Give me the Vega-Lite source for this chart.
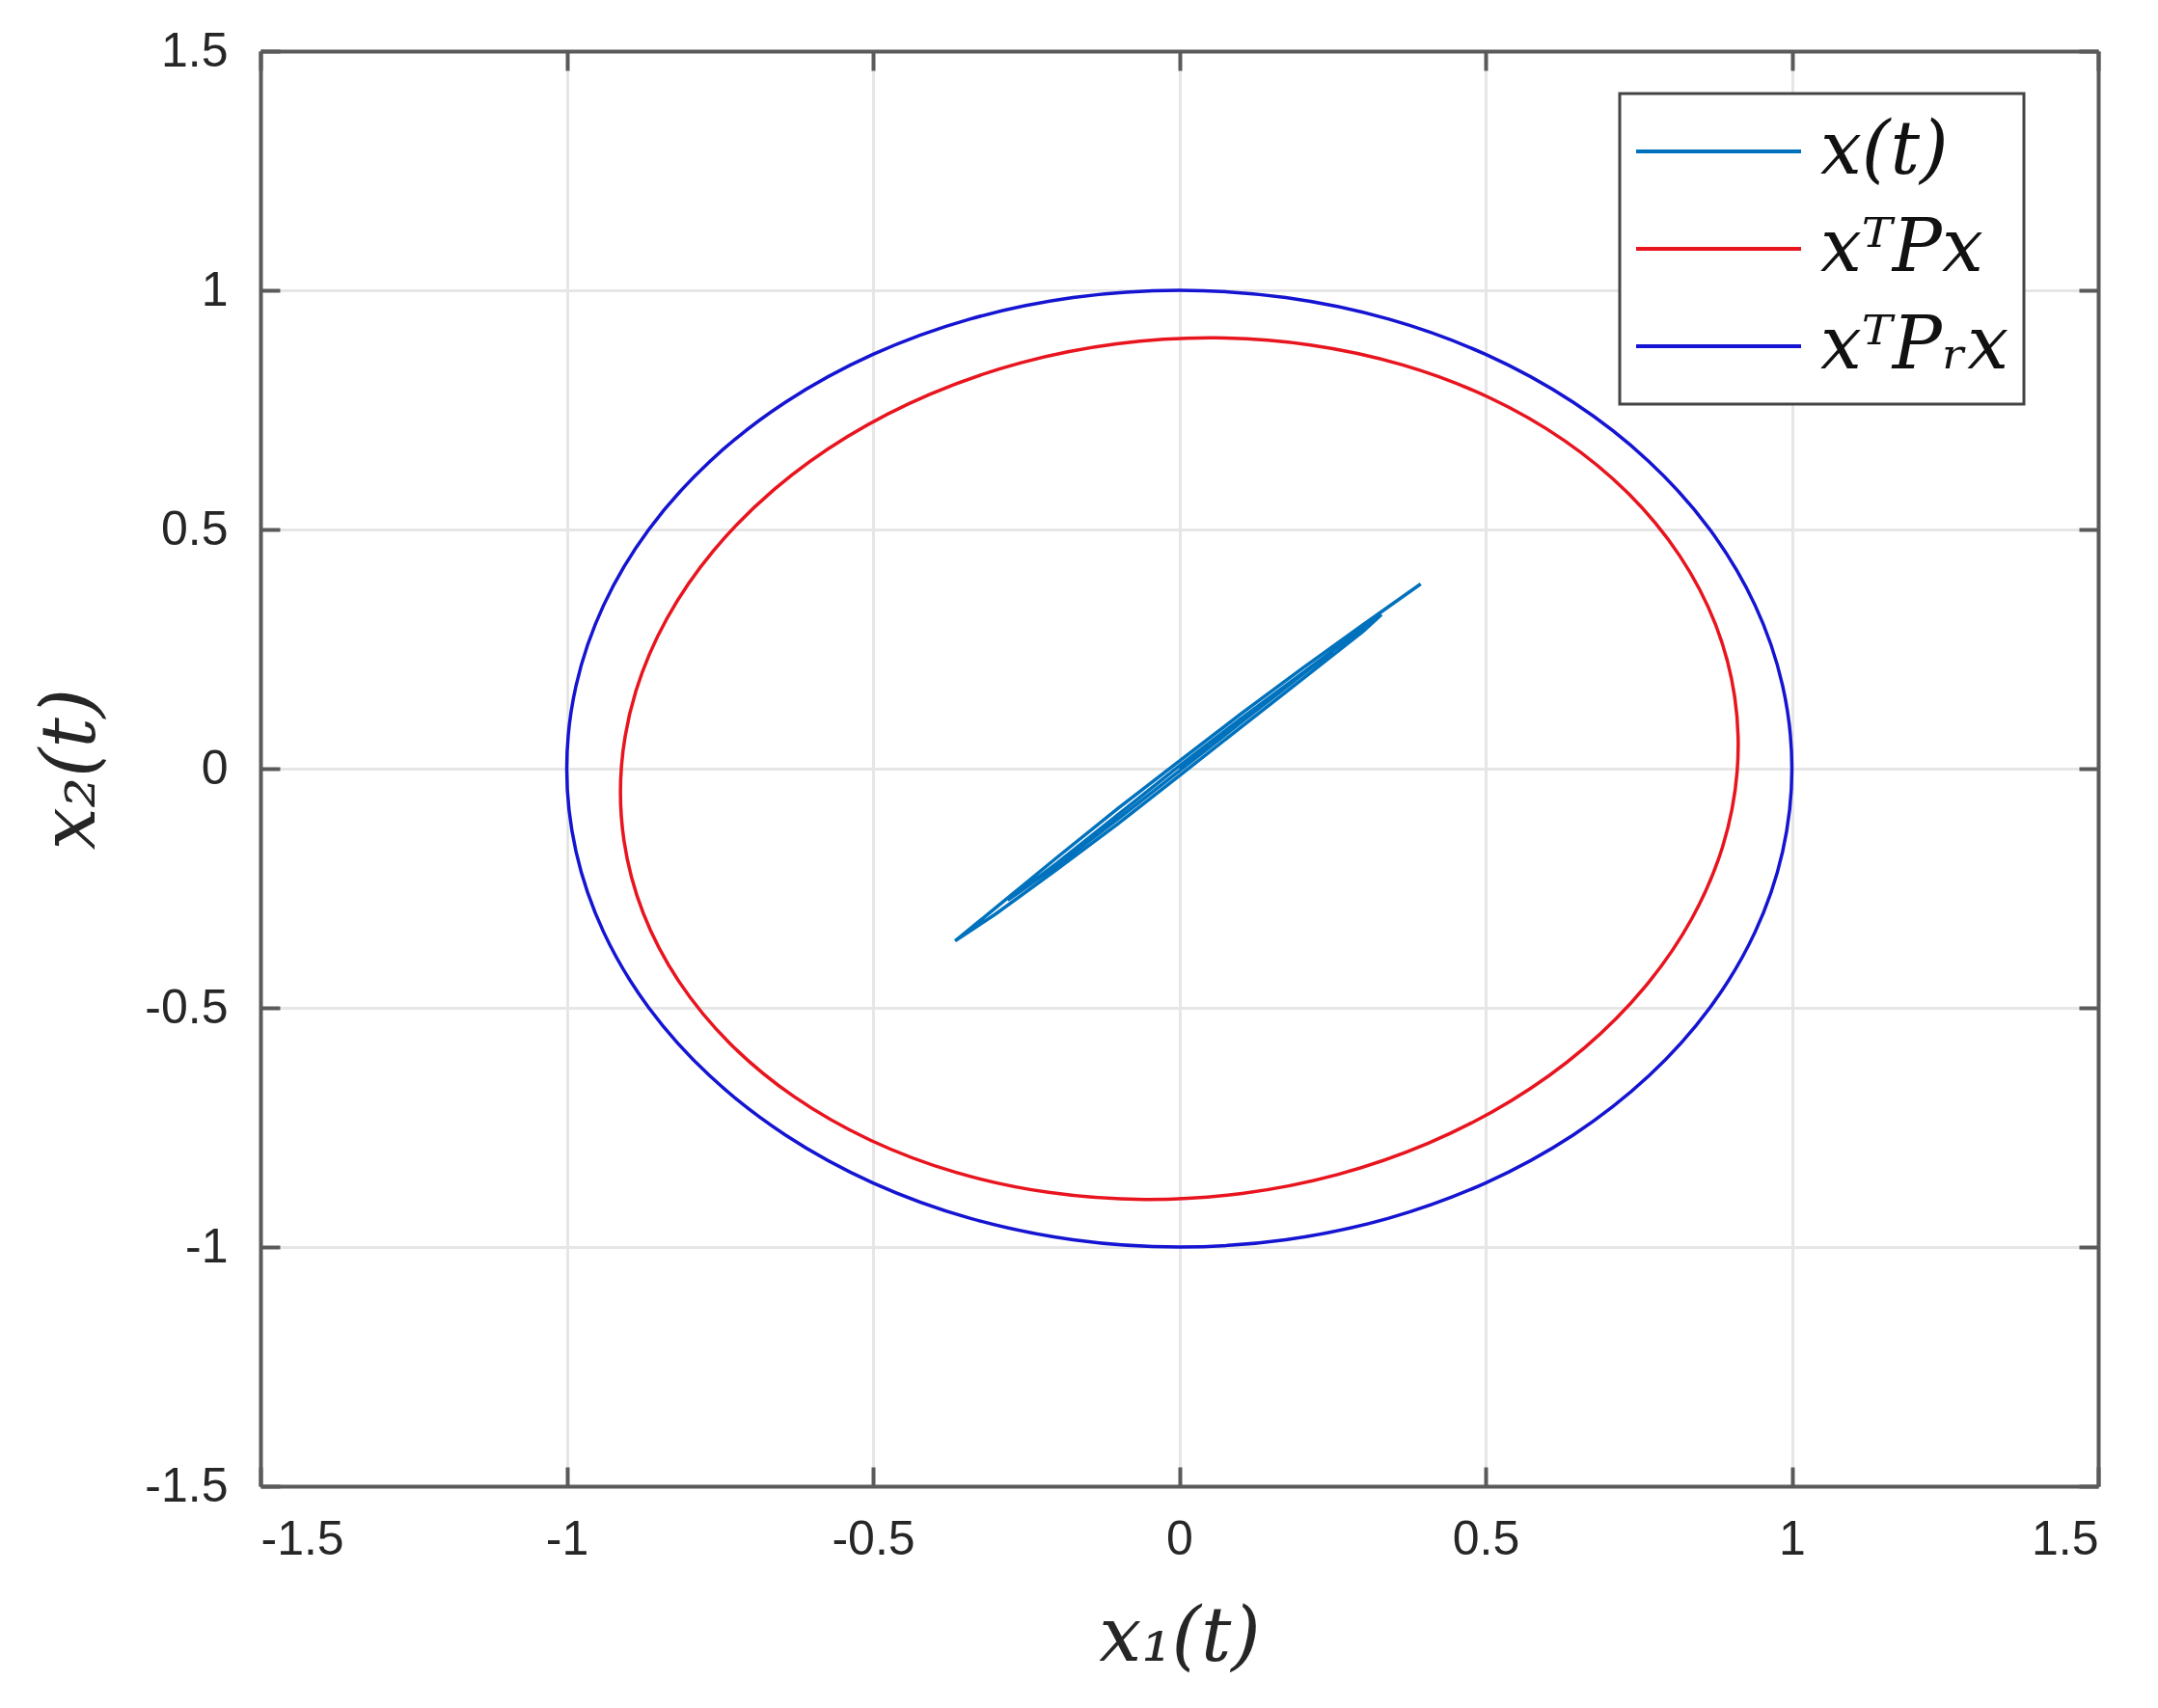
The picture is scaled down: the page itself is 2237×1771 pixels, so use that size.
{
  "$schema": "https://vega.github.io/schema/vega-lite/v6.json",
  "width": 1905,
  "height": 1488,
  "autosize": "none",
  "padding": {"left": 270, "top": 53, "right": 62, "bottom": 230},
  "background": "white",
  "datasets": {
    "circ": [
      {"s": "xᵀPᵣx", "i": 0, "x1": 1, "x2": 0},
      {"s": "xᵀPᵣx", "i": 1, "x1": 0.9848, "x2": 0.1736},
      {"s": "xᵀPᵣx", "i": 2, "x1": 0.9397, "x2": 0.342},
      {"s": "xᵀPᵣx", "i": 3, "x1": 0.866, "x2": 0.5},
      {"s": "xᵀPᵣx", "i": 4, "x1": 0.766, "x2": 0.6428},
      {"s": "xᵀPᵣx", "i": 5, "x1": 0.6428, "x2": 0.766},
      {"s": "xᵀPᵣx", "i": 6, "x1": 0.5, "x2": 0.866},
      {"s": "xᵀPᵣx", "i": 7, "x1": 0.342, "x2": 0.9397},
      {"s": "xᵀPᵣx", "i": 8, "x1": 0.1736, "x2": 0.9848},
      {"s": "xᵀPᵣx", "i": 9, "x1": 0, "x2": 1},
      {"s": "xᵀPᵣx", "i": 10, "x1": -0.1736, "x2": 0.9848},
      {"s": "xᵀPᵣx", "i": 11, "x1": -0.342, "x2": 0.9397},
      {"s": "xᵀPᵣx", "i": 12, "x1": -0.5, "x2": 0.866},
      {"s": "xᵀPᵣx", "i": 13, "x1": -0.6428, "x2": 0.766},
      {"s": "xᵀPᵣx", "i": 14, "x1": -0.766, "x2": 0.6428},
      {"s": "xᵀPᵣx", "i": 15, "x1": -0.866, "x2": 0.5},
      {"s": "xᵀPᵣx", "i": 16, "x1": -0.9397, "x2": 0.342},
      {"s": "xᵀPᵣx", "i": 17, "x1": -0.9848, "x2": 0.1736},
      {"s": "xᵀPᵣx", "i": 18, "x1": -1, "x2": 0},
      {"s": "xᵀPᵣx", "i": 19, "x1": -0.9848, "x2": -0.1736},
      {"s": "xᵀPᵣx", "i": 20, "x1": -0.9397, "x2": -0.342},
      {"s": "xᵀPᵣx", "i": 21, "x1": -0.866, "x2": -0.5},
      {"s": "xᵀPᵣx", "i": 22, "x1": -0.766, "x2": -0.6428},
      {"s": "xᵀPᵣx", "i": 23, "x1": -0.6428, "x2": -0.766},
      {"s": "xᵀPᵣx", "i": 24, "x1": -0.5, "x2": -0.866},
      {"s": "xᵀPᵣx", "i": 25, "x1": -0.342, "x2": -0.9397},
      {"s": "xᵀPᵣx", "i": 26, "x1": -0.1736, "x2": -0.9848},
      {"s": "xᵀPᵣx", "i": 27, "x1": 0, "x2": -1},
      {"s": "xᵀPᵣx", "i": 28, "x1": 0.1736, "x2": -0.9848},
      {"s": "xᵀPᵣx", "i": 29, "x1": 0.342, "x2": -0.9397},
      {"s": "xᵀPᵣx", "i": 30, "x1": 0.5, "x2": -0.866},
      {"s": "xᵀPᵣx", "i": 31, "x1": 0.6428, "x2": -0.766},
      {"s": "xᵀPᵣx", "i": 32, "x1": 0.766, "x2": -0.6428},
      {"s": "xᵀPᵣx", "i": 33, "x1": 0.866, "x2": -0.5},
      {"s": "xᵀPᵣx", "i": 34, "x1": 0.9397, "x2": -0.342},
      {"s": "xᵀPᵣx", "i": 35, "x1": 0.9848, "x2": -0.1736}
    ],
    "ell": [
      {"s": "xᵀPx", "i": 0, "x1": 0.734, "x2": 0.574},
      {"s": "xᵀPx", "i": 1, "x1": 0.6287, "x2": 0.6858},
      {"s": "xᵀPx", "i": 2, "x1": 0.5043, "x2": 0.7767},
      {"s": "xᵀPx", "i": 3, "x1": 0.3646, "x2": 0.8441},
      {"s": "xᵀPx", "i": 4, "x1": 0.2138, "x2": 0.8858},
      {"s": "xᵀPx", "i": 5, "x1": 0.0566, "x2": 0.9006},
      {"s": "xᵀPx", "i": 6, "x1": -0.1024, "x2": 0.888},
      {"s": "xᵀPx", "i": 7, "x1": -0.2583, "x2": 0.8485},
      {"s": "xᵀPx", "i": 8, "x1": -0.4064, "x2": 0.7831},
      {"s": "xᵀPx", "i": 9, "x1": -0.542, "x2": 0.694},
      {"s": "xᵀPx", "i": 10, "x1": -0.6612, "x2": 0.5839},
      {"s": "xᵀPx", "i": 11, "x1": -0.7603, "x2": 0.4559},
      {"s": "xᵀPx", "i": 12, "x1": -0.8364, "x2": 0.314},
      {"s": "xᵀPx", "i": 13, "x1": -0.887, "x2": 0.1626},
      {"s": "xᵀPx", "i": 14, "x1": -0.9106, "x2": 0.0064},
      {"s": "xᵀPx", "i": 15, "x1": -0.9066, "x2": -0.1501},
      {"s": "xᵀPx", "i": 16, "x1": -0.8751, "x2": -0.3021},
      {"s": "xᵀPx", "i": 17, "x1": -0.8169, "x2": -0.4448},
      {"s": "xᵀPx", "i": 18, "x1": -0.734, "x2": -0.574},
      {"s": "xᵀPx", "i": 19, "x1": -0.6287, "x2": -0.6858},
      {"s": "xᵀPx", "i": 20, "x1": -0.5043, "x2": -0.7767},
      {"s": "xᵀPx", "i": 21, "x1": -0.3646, "x2": -0.8441},
      {"s": "xᵀPx", "i": 22, "x1": -0.2138, "x2": -0.8858},
      {"s": "xᵀPx", "i": 23, "x1": -0.0566, "x2": -0.9006},
      {"s": "xᵀPx", "i": 24, "x1": 0.1024, "x2": -0.888},
      {"s": "xᵀPx", "i": 25, "x1": 0.2583, "x2": -0.8485},
      {"s": "xᵀPx", "i": 26, "x1": 0.4064, "x2": -0.7831},
      {"s": "xᵀPx", "i": 27, "x1": 0.542, "x2": -0.694},
      {"s": "xᵀPx", "i": 28, "x1": 0.6612, "x2": -0.5839},
      {"s": "xᵀPx", "i": 29, "x1": 0.7603, "x2": -0.4559},
      {"s": "xᵀPx", "i": 30, "x1": 0.8364, "x2": -0.314},
      {"s": "xᵀPx", "i": 31, "x1": 0.887, "x2": -0.1626},
      {"s": "xᵀPx", "i": 32, "x1": 0.9106, "x2": -0.0064},
      {"s": "xᵀPx", "i": 33, "x1": 0.9066, "x2": 0.1501},
      {"s": "xᵀPx", "i": 34, "x1": 0.8751, "x2": 0.3021},
      {"s": "xᵀPx", "i": 35, "x1": 0.8169, "x2": 0.4448}
    ],
    "traj": [
      {"s": "x(t)", "i": 0, "x1": 0.394, "x2": 0.386},
      {"s": "x(t)", "i": 1, "x1": 0.3, "x2": 0.301},
      {"s": "x(t)", "i": 2, "x1": 0.2, "x2": 0.209},
      {"s": "x(t)", "i": 3, "x1": 0.1, "x2": 0.114},
      {"s": "x(t)", "i": 4, "x1": 0.0, "x2": 0.016},
      {"s": "x(t)", "i": 5, "x1": -0.1, "x2": -0.083},
      {"s": "x(t)", "i": 6, "x1": -0.2, "x2": -0.186},
      {"s": "x(t)", "i": 7, "x1": -0.3, "x2": -0.291},
      {"s": "x(t)", "i": 8, "x1": -0.366, "x2": -0.36},
      {"s": "x(t)", "i": 9, "x1": -0.3, "x2": -0.304},
      {"s": "x(t)", "i": 10, "x1": -0.2, "x2": -0.211},
      {"s": "x(t)", "i": 11, "x1": -0.1, "x2": -0.115},
      {"s": "x(t)", "i": 12, "x1": 0.0, "x2": -0.015},
      {"s": "x(t)", "i": 13, "x1": 0.1, "x2": 0.086},
      {"s": "x(t)", "i": 14, "x1": 0.2, "x2": 0.186},
      {"s": "x(t)", "i": 15, "x1": 0.3, "x2": 0.287},
      {"s": "x(t)", "i": 16, "x1": 0.33, "x2": 0.322},
      {"s": "x(t)", "i": 17, "x1": 0.2, "x2": 0.199},
      {"s": "x(t)", "i": 18, "x1": 0.1, "x2": 0.104},
      {"s": "x(t)", "i": 19, "x1": 0.0, "x2": 0.006},
      {"s": "x(t)", "i": 20, "x1": -0.1, "x2": -0.096},
      {"s": "x(t)", "i": 21, "x1": -0.2, "x2": -0.198},
      {"s": "x(t)", "i": 22, "x1": -0.28, "x2": -0.275},
      {"s": "x(t)", "i": 23, "x1": -0.2, "x2": -0.203},
      {"s": "x(t)", "i": 24, "x1": -0.1, "x2": -0.105},
      {"s": "x(t)", "i": 25, "x1": 0.0, "x2": -0.005},
      {"s": "x(t)", "i": 26, "x1": 0.1, "x2": 0.096},
      {"s": "x(t)", "i": 27, "x1": 0.2, "x2": 0.196},
      {"s": "x(t)", "i": 28, "x1": 0.25, "x2": 0.245},
      {"s": "x(t)", "i": 29, "x1": 0.1, "x2": 0.099},
      {"s": "x(t)", "i": 30, "x1": 0.0, "x2": 0.0}
    ]
  },
  "layer": [
    {
      "data": {"name": "circ"},
      "mark": {"type": "line", "interpolate": "cardinal-closed", "strokeWidth": 3.5},
      "encoding": {
        "x": {"field": "x1", "type": "quantitative",
          "scale": {"domain": [-1.5, 1.5], "nice": false, "zero": false},
          "axis": {"orient": "bottom", "values": [-1.5, -1, -0.5, 0, 0.5, 1, 1.5], "labelExpr": "toString(datum.value)", "title": "x₁(t)", "grid": true, "ticks": false, "domain": true, "labelPadding": 30, "titlePadding": 38}},
        "y": {"field": "x2", "type": "quantitative",
          "scale": {"domain": [-1.5, 1.5], "nice": false, "zero": false},
          "axis": {"orient": "left", "values": [-1.5, -1, -0.5, 0, 0.5, 1, 1.5], "labelExpr": "toString(datum.value)", "title": "x₂(t)", "grid": true, "ticks": false, "domain": true, "labelPadding": 34, "titlePadding": 36}},
        "order": {"field": "i", "type": "quantitative"},
        "color": {"field": "s", "type": "nominal",
          "scale": {"domain": ["x(t)", "xᵀPx", "xᵀPᵣx"], "range": ["#0072BD", "#E8141E", "#1414D2"]},
          "legend": {"title": null, "orient": "none", "legendX": 1409, "legendY": 44, "symbolType": "stroke", "symbolSize": 29241, "symbolStrokeWidth": 4, "labelFont": "DejaVu Serif", "labelFontStyle": "italic", "labelFontSize": 76, "labelLimit": 600, "labelOffset": 18, "padding": 15, "rowPadding": 11, "clipHeight": 90, "strokeColor": "#444444", "fillColor": "white", "labelColor": "#111111"}}
      }
    },
    {
      "data": {"name": "ell"},
      "mark": {"type": "line", "interpolate": "cardinal-closed", "strokeWidth": 3.5},
      "encoding": {
        "x": {"field": "x1", "type": "quantitative",
          "axis": {"orient": "top", "values": [-1.5, -1, -0.5, 0, 0.5, 1, 1.5], "labels": false, "title": null, "grid": false, "ticks": true, "tickSize": -20, "domain": true}},
        "y": {"field": "x2", "type": "quantitative",
          "axis": {"orient": "right", "values": [-1.5, -1, -0.5, 0, 0.5, 1, 1.5], "labels": false, "title": null, "grid": false, "ticks": true, "tickSize": -20, "domain": true}},
        "order": {"field": "i", "type": "quantitative"},
        "color": {"field": "s", "type": "nominal",
          "legend": {"title": null, "orient": "none", "legendX": 1409, "legendY": 44, "symbolType": "stroke", "symbolSize": 29241, "symbolStrokeWidth": 4, "labelFont": "DejaVu Serif", "labelFontStyle": "italic", "labelFontSize": 76, "labelLimit": 600, "labelOffset": 18, "padding": 15, "rowPadding": 11, "clipHeight": 90, "strokeColor": "#444444", "fillColor": "white", "labelColor": "#111111"}}
      }
    },
    {
      "data": {"name": "traj"},
      "mark": {"type": "line", "interpolate": "linear", "strokeWidth": 3.5},
      "encoding": {
        "x": {"field": "x1", "type": "quantitative",
          "axis": {"orient": "bottom", "values": [-1.5, -1, -0.5, 0, 0.5, 1, 1.5], "labels": false, "title": null, "grid": false, "ticks": true, "tickSize": -20, "domain": false}},
        "y": {"field": "x2", "type": "quantitative",
          "axis": {"orient": "left", "values": [-1.5, -1, -0.5, 0, 0.5, 1, 1.5], "labels": false, "title": null, "grid": false, "ticks": true, "tickSize": -20, "domain": false}},
        "order": {"field": "i", "type": "quantitative"},
        "color": {"field": "s", "type": "nominal",
          "legend": {"title": null, "orient": "none", "legendX": 1409, "legendY": 44, "symbolType": "stroke", "symbolSize": 29241, "symbolStrokeWidth": 4, "labelFont": "DejaVu Serif", "labelFontStyle": "italic", "labelFontSize": 76, "labelLimit": 600, "labelOffset": 18, "padding": 15, "rowPadding": 11, "clipHeight": 90, "strokeColor": "#444444", "fillColor": "white", "labelColor": "#111111"}}
      }
    }
  ],
  "resolve": {"axis": {"x": "independent", "y": "independent"}},
  "config": {
    "view": {"stroke": null},
    "axis": {
      "labelFont": "Liberation Sans",
      "labelFontSize": 50,
      "labelColor": "#262626",
      "titleFont": "DejaVu Serif",
      "titleFontStyle": "italic",
      "titleFontWeight": "normal",
      "titleFontSize": 78,
      "titleColor": "#262626",
      "gridColor": "#e6e6e6",
      "gridWidth": 3,
      "gridOpacity": 1,
      "domainColor": "#5a5a5a",
      "domainWidth": 4,
      "tickColor": "#5a5a5a",
      "tickWidth": 4
    },
    "legend": {"strokeWidth": 3}
  }
}
